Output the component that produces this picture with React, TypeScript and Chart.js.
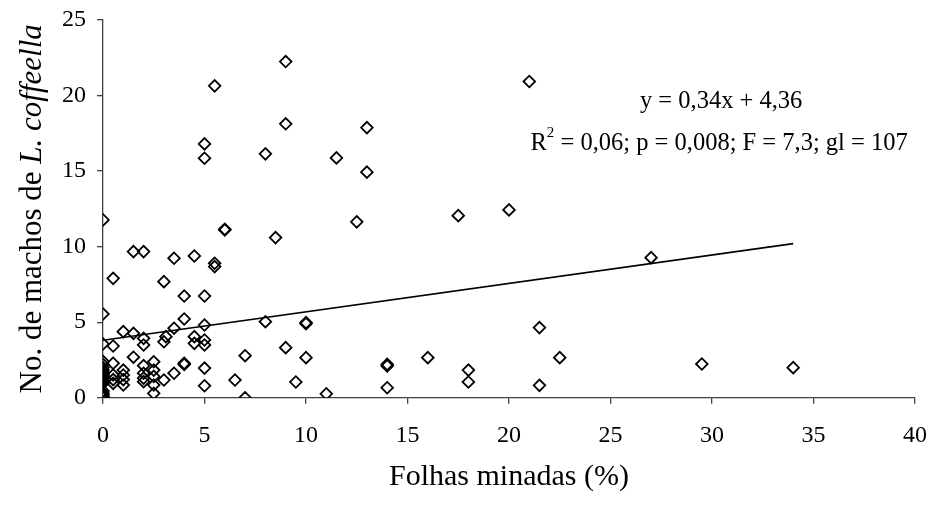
import React, { useEffect, useRef } from 'react';
import { Chart, registerables } from 'chart.js';

Chart.register(...registerables);

// Observed points: % mined leaves (x) vs number of L. coffeella males (y)
const leafX: number[] = [
  0, 0, 0, 0, 0, 0, 0, 0, 0, 0, 0, 0, 0, 0, 0, 0, 0, 0, 0, 0, 0, 0, 0,
  0.5, 0.5, 0.5, 0.5, 0.5, 0.5,
  1, 1, 1, 1, 1,
  1.5, 1.5, 1.5,
  2, 2, 2, 2, 2, 2, 2,
  2.5, 2.5, 2.5, 2.5, 2.5,
  3, 3, 3.1, 3,
  3.5, 3.5, 3.5,
  4, 4, 4, 4,
  4.5, 4.5, 4.5,
  5, 5, 5, 5, 5, 5, 5, 5,
  5.5, 5.5, 5.5,
  6, 6,
  6.5,
  7, 7,
  8, 8,
  8.5,
  9, 9, 9,
  9.5,
  10, 10, 10,
  11,
  11.5,
  12.5,
  13, 13,
  14, 14, 14,
  16,
  17.5,
  18, 18,
  20,
  21,
  21.5, 21.5,
  22.5,
  27,
  29.5,
  34,
];

const malesY: number[] = [
  11.77, 5.54, 3.56, 2.4, 2.2, 2.0, 1.85, 1.7, 1.6, 1.55, 1.45, 1.35, 1.3, 1.25, 1.15, 1.05, 0.95, 0.45, 0.3, 0.2, 0.1, 0.05, 0,
  7.9, 3.42, 2.28, 1.5, 1.2, 0.95,
  4.37, 1.83, 1.5, 1.2, 0.84,
  9.67, 4.26, 2.68,
  9.67, 3.93, 3.49, 2.12, 1.62, 1.3, 1.06,
  2.38, 1.83, 1.41, 0.84, 0.29,
  7.68, 3.7, 4.04, 1.17,
  9.23, 4.6, 1.62,
  6.73, 5.21, 2.28, 2.2,
  9.38, 4.04, 3.6,
  16.8, 15.85, 6.73, 4.81, 3.82, 3.49, 1.96, 0.79,
  20.64, 8.9, 8.68,
  11.15, 11.1,
  1.17,
  2.78, 0,
  16.14, 5.03,
  10.6,
  22.25, 18.13, 3.31,
  1.04,
  4.97, 4.9, 2.65,
  0.26,
  15.87,
  11.64,
  17.88, 14.93,
  2.21, 2.1, 0.66,
  2.65,
  12.05,
  1.83, 1.04,
  12.43,
  20.93,
  4.64, 0.82,
  2.65,
  9.27,
  2.23,
  1.99,
];

// Fitted line as drawn on the figure
const trendX: number[] = [0, 34];
const trendY: number[] = [3.8, 10.2];

const xTickValues: number[] = [0, 5, 10, 15, 20, 25, 30, 35, 40];
const yTickValues: number[] = [0, 5, 10, 15, 20, 25];

const xTitle = 'Folhas minadas (%)';
const yTitlePlain = 'No. de machos de ';
const yTitleItalic = 'L. coffeella';
const eqText = 'y = 0,34x + 4,36';
const statsR = 'R';
const statsSup = '2';
const statsRest = ' = 0,06; p = 0,008; F = 7,3; gl = 107';

const FONT = '"Liberation Serif", "Times New Roman", serif';

const textPlugin = {
  id: 'customTexts',
  afterDraw(chart: any) {
    const ctx = chart.ctx as CanvasRenderingContext2D;
    const area = chart.chartArea;
    const xs = chart.scales.x;
    const ys = chart.scales.y;
    ctx.save();
    ctx.fillStyle = '#000';
    ctx.textBaseline = 'middle';

    // X title
    ctx.font = `30px ${FONT}`;
    ctx.textAlign = 'center';
    ctx.fillText(xTitle, (area.left + area.right) / 2, 477);

    // Y title (mixed italic)
    ctx.save();
    ctx.translate(33, (area.top + area.bottom) / 2);
    ctx.rotate(-Math.PI / 2);
    ctx.textAlign = 'left';
    ctx.font = `31px ${FONT}`;
    const w1 = ctx.measureText(yTitlePlain).width;
    ctx.font = `italic 31px ${FONT}`;
    const w2 = ctx.measureText(yTitleItalic).width;
    const start = -(w1 + w2) / 2;
    ctx.font = `31px ${FONT}`;
    ctx.fillText(yTitlePlain, start, 0);
    ctx.font = `italic 31px ${FONT}`;
    ctx.fillText(yTitleItalic, start + w1, 0);
    ctx.restore();

    // Equation
    ctx.font = `24.5px ${FONT}`;
    ctx.textAlign = 'center';
    ctx.fillText(eqText, xs.getPixelForValue(30.45), ys.getPixelForValue(19.6));

    // Stats line with superscript
    ctx.textAlign = 'left';
    ctx.font = `24.5px ${FONT}`;
    const wr = ctx.measureText(statsR).width;
    const wrest = ctx.measureText(statsRest).width;
    ctx.font = `15px ${FONT}`;
    const ws = ctx.measureText(statsSup).width;
    const total = wr + ws + wrest;
    const cx = xs.getPixelForValue(30.35);
    const cy = ys.getPixelForValue(16.85);
    let sx = cx - total / 2;
    ctx.font = `24.5px ${FONT}`;
    ctx.fillText(statsR, sx, cy);
    sx += wr;
    ctx.font = `15px ${FONT}`;
    ctx.fillText(statsSup, sx, cy - 10);
    sx += ws;
    ctx.font = `24.5px ${FONT}`;
    ctx.fillText(statsRest, sx, cy);
    ctx.restore();
  },
};

export default function App() {
  const canvasRef = useRef<HTMLCanvasElement | null>(null);

  useEffect(() => {
    document.body.style.margin = '0';
    if (!canvasRef.current) return;
    const points = leafX.map((x, i) => ({ x, y: malesY[i] }));
    const line = trendX.map((x, i) => ({ x, y: trendY[i] }));
    const axisColor = '#404040';
    const chart = new Chart(canvasRef.current, {
      type: 'scatter',
      data: {
        datasets: [
          {
            label: 'trend',
            data: line,
            showLine: true,
            borderColor: '#000',
            borderWidth: 1.6,
            pointRadius: 0,
            fill: false,
            order: 2,
          } as any,
          {
            label: 'obs',
            data: points,
            pointStyle: 'rectRot',
            pointRadius: 5.8,
            borderColor: '#000',
            backgroundColor: 'rgba(0,0,0,0)',
            borderWidth: 1.8,
            order: 1,
          } as any,
        ],
      },
      options: {
        animation: false,
        responsive: false,
        devicePixelRatio: 1,
        layout: { padding: { top: 20, right: 15, left: 0, bottom: 0 } },
        plugins: {
          legend: { display: false },
          tooltip: { enabled: false },
        },
        scales: {
          x: {
            type: 'linear',
            min: 0,
            max: 40,
            afterBuildTicks: (s: any) => {
              s.ticks = xTickValues.map((v) => ({ value: v }));
            },
            ticks: {
              font: { family: FONT, size: 24 },
              color: '#000',
              padding: 18,
              maxRotation: 0,
              autoSkip: false,
            },
            grid: { drawOnChartArea: false, drawTicks: true, tickLength: 6, color: axisColor, lineWidth: 1.3 },
            border: { color: axisColor, width: 1.3 },
            afterFit: (s: any) => {
              s.height = 108.3;
              s.paddingLeft = 0;
              s.paddingRight = 0;
            },
          },
          y: {
            type: 'linear',
            min: 0,
            max: 25,
            afterBuildTicks: (s: any) => {
              s.ticks = yTickValues.map((v) => ({ value: v }));
            },
            ticks: {
              font: { family: FONT, size: 24 },
              color: '#000',
              padding: 11,
              autoSkip: false,
            },
            grid: { drawOnChartArea: false, drawTicks: true, tickLength: 6, color: axisColor, lineWidth: 1.3 },
            border: { color: axisColor, width: 1.3 },
            afterFit: (s: any) => {
              s.width = 103;
              s.paddingTop = 0;
              s.paddingBottom = 0;
            },
          },
        },
      } as any,
      plugins: [textPlugin],
    });
    return () => chart.destroy();
  }, []);

  return (
    <div style={{ width: 930, height: 506, overflow: 'hidden' }}>
      <canvas ref={canvasRef} width={930} height={506} style={{ display: 'block' }} />
    </div>
  );
}
